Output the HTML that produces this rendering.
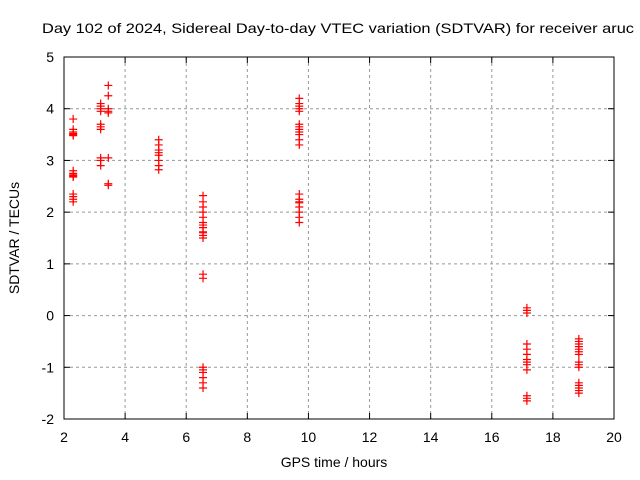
<!DOCTYPE html>
<html><head><meta charset="utf-8"><style>
body{margin:0;background:#fff}
svg{display:block;font-family:"Liberation Sans",sans-serif}
</style></head><body>
<svg id="chart" width="640" height="480">
<text x="42" y="33" font-size="14" textLength="592" lengthAdjust="spacingAndGlyphs">Day 102 of 2024, Sidereal Day-to-day VTEC variation (SDTVAR) for receiver aruc</text>
<text x="334" y="467" font-size="14" text-anchor="middle">GPS time / hours</text>
<text transform="translate(19,238) rotate(-90)" font-size="14" text-anchor="middle">SDTVAR / TECUs</text>
<g id="grid"></g><g id="marks"></g>
<rect x="64" y="57" width="550" height="362" fill="none" stroke="#000"/>
</svg>
<script>
const xTicks=[2,4,6,8,10,12,14,16,18,20];
const yTicks=[-2,-1,0,1,2,3,4,5];
const times=[2.3,2.3,2.3,2.3,2.3,2.3,2.3,2.3,2.3,2.3,2.3,2.3,2.3,2.3,2.3,
3.2,3.2,3.2,3.2,3.2,3.2,3.2,3.2,3.2,3.2,
3.45,3.45,3.45,3.45,3.45,3.45,3.45,3.45,
5.1,5.1,5.1,5.1,5.1,5.1,5.1,5.1,
6.55,6.55,6.55,6.55,6.55,6.55,6.55,6.55,6.55,6.55,6.55,6.55,6.55,6.55,6.55,6.55,6.55,6.55,6.55,6.55,
9.7,9.7,9.7,9.7,9.7,9.7,9.7,9.7,9.7,9.7,9.7,9.7,9.7,9.7,9.7,9.7,9.7,9.7,9.7,9.7,
17.15,17.15,17.15,17.15,17.15,17.15,17.15,17.15,17.15,17.15,17.15,17.15,17.15,
18.85,18.85,18.85,18.85,18.85,18.85,18.85,18.85,18.85,18.85,18.85,18.85,18.85,18.85,18.85];
const values=[3.8,3.6,3.55,3.5,3.52,3.48,2.8,2.75,2.7,2.72,2.68,2.35,2.3,2.25,2.2,
4.1,4.05,4.0,3.95,3.7,3.65,3.6,3.05,3.0,2.9,
4.45,4.25,4.0,3.95,3.92,3.05,2.55,2.52,
3.4,3.3,3.2,3.15,3.1,3.0,2.9,2.82,
2.32,2.2,2.1,2.0,1.9,1.8,1.75,1.7,1.62,1.6,1.55,1.5,0.8,0.72,-1.0,-1.05,-1.1,-1.2,-1.3,-1.4,
4.2,4.1,4.05,4.0,3.95,3.7,3.65,3.6,3.55,3.5,3.4,3.3,2.35,2.25,2.2,2.18,2.1,2.0,1.9,1.8,
0.15,0.1,0.05,-0.55,-0.65,-0.75,-0.85,-0.9,-0.95,-1.05,-1.55,-1.6,-1.65,
-0.45,-0.5,-0.55,-0.6,-0.65,-0.7,-0.75,-0.9,-0.95,-1.0,-1.3,-1.35,-1.4,-1.45,-1.5];
const NS='http://www.w3.org/2000/svg';
const X0=64,X1=614,Y0=419,Y1=57;
function sx(v){return X0+(v-2)/18*(X1-X0);}
function sy(v){return Y0-(v+2)/7*(Y0-Y1);}
function mk(tag,a,p){const e=document.createElementNS(NS,tag);for(const k in a)e.setAttribute(k,a[k]);p.appendChild(e);return e;}
const grid=document.getElementById('grid'),marks=document.getElementById('marks');
xTicks.forEach(t=>{const x=sx(t);
 if(t>2&&t<20){const l=mk('line',{x1:x,x2:x,y1:Y1,y2:Y0,stroke:'#999','stroke-dasharray':'3,3'},grid);
 
 }
 mk('line',{x1:x,x2:x,y1:Y0,y2:Y0-6,stroke:'#000'},grid);
 mk('line',{x1:x,x2:x,y1:Y1,y2:Y1+6,stroke:'#000'},grid);
 const tx=mk('text',{x:x,y:Y0+23,'font-size':14,'text-anchor':'middle'},grid);tx.textContent=t;
 
 });
yTicks.forEach(t=>{const y=sy(t);
 if(t>-2&&t<5){const l=mk('line',{x1:X0,x2:X1,y1:y,y2:y,stroke:'#999','stroke-dasharray':'3,3'},grid);
 
 }
 mk('line',{x1:X0,x2:X0+6,y1:y,y2:y,stroke:'#000'},grid);
 mk('line',{x1:X1,x2:X1-6,y1:y,y2:y,stroke:'#000'},grid);
 const tx=mk('text',{x:X0-10,y:y+5,'font-size':14,'text-anchor':'end'},grid);tx.textContent=t;
 
 });
times.forEach((t,i)=>{const x=sx(t),y=sy(values[i]);
 const p=mk('path',{d:`M${x-4},${y}H${x+4}M${x},${y-4}V${y+4}`,stroke:'#f00','stroke-width':1.2},marks);
 
 });
</script>
</body></html>
